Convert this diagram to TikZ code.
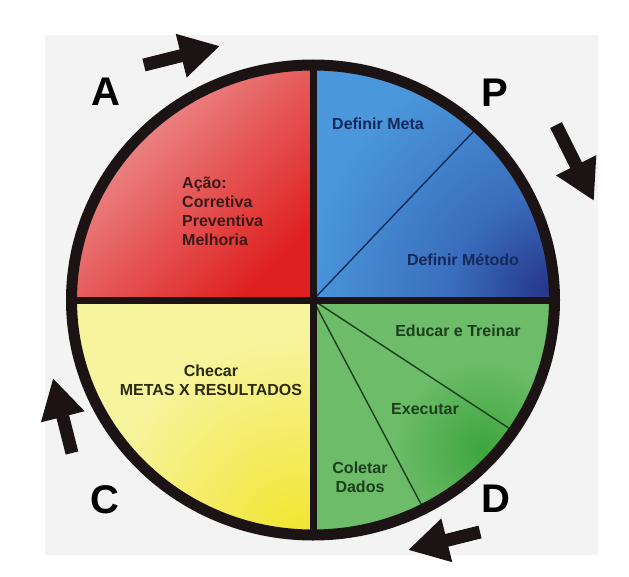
\documentclass[tikz,border=0pt]{standalone}
\usepackage{fontspec}
\setmainfont{Liberation Sans}
\usetikzlibrary{arrows.meta}

\definecolor{ringcol}{HTML}{1C1414}
\definecolor{bggray}{HTML}{F3F3F3}
\definecolor{redlt}{HTML}{EFA3A3}
\definecolor{redmid}{HTML}{E98080}
\definecolor{reddk}{HTML}{DF2020}
\definecolor{bluelt}{HTML}{4A97DB}
\definecolor{bluemid}{HTML}{3A6DBD}
\definecolor{bluedk}{HTML}{26368A}
\definecolor{greenlt}{HTML}{6DBC69}
\definecolor{greendk}{HTML}{3DA53D}
\definecolor{yellowlt}{HTML}{F7F49E}
\definecolor{yellowdk}{HTML}{F2E52E}
\definecolor{txtred}{HTML}{3A1A18}
\definecolor{txtblue}{HTML}{15295C}
\definecolor{txtgreen}{HTML}{1B3F1B}
\definecolor{txtyellow}{HTML}{2B2A12}

% soft spots of colour (the path's circle is at 25bp)
\pgfdeclareradialshading{bluespot}{\pgfpoint{0bp}{0bp}}{color(0bp)=(bluedk); color(10bp)=(bluemid); color(25bp)=(bluelt); color(50bp)=(bluelt)}
\pgfdeclareradialshading{yellowspot}{\pgfpoint{0bp}{0bp}}{color(0bp)=(yellowdk); color(25bp)=(yellowlt); color(50bp)=(yellowlt)}
\pgfdeclareradialshading{greenspot}{\pgfpoint{0bp}{0bp}}{color(0bp)=(greendk); color(25bp)=(greenlt); color(50bp)=(greenlt)}

\tikzset{
  lbl/.style={font=\bfseries\fontsize{16}{19}\selectfont, inner sep=0pt},
  bigletter/.style={font=\bfseries\fontsize{40}{40}\selectfont, inner sep=0pt, text=black},
  cyclearrow/.style={line width=13pt, ringcol, -{Triangle[length=40pt,width=42pt]}},
  sectorline/.style={line width=1.4pt}
}

\begin{document}
\begin{tikzpicture}[x=1pt,y=1pt]
  \useasboundingbox (-313,-276) rectangle (316,300);
  % background
  \fill[white] (-313,-276) rectangle (316,300);
  \fill[bggray] (-268,-255) rectangle (285,265);

  \coordinate (ctr) at (0,0);

  % the four quadrants
  \begin{scope}
    \clip (ctr) ellipse [x radius=241.5, y radius=235];
    \shade[top color=redlt, middle color=redmid, bottom color=reddk, shading angle=45] (-250,0) rectangle (0,250);
    % blue: light, darker towards the lower right
    \fill[bluelt] (0,0) rectangle (250,250);
    \begin{scope}
      \clip (0,0) rectangle (250,250);
      \shade[shading=bluespot] (235,10) circle (240);
    \end{scope}
    % yellow: pale, strong yellow at the bottom
    \fill[yellowlt] (-250,-250) rectangle (0,0);
    \begin{scope}
      \clip (-250,-250) rectangle (0,0);
      \shade[shading=yellowspot] (-15,-235) circle (200);
    \end{scope}
    % green with a darker patch
    \fill[greenlt] (0,-250) rectangle (250,0);
    \shade[shading=greenspot] (170,-150) circle (90);

    % sub-divisions of P and D
    \coordinate (metaend) at (46.4:400);
    \coordinate (educend) at (-33.2:400);
    \coordinate (execend) at (-62.1:400);
    \draw[sectorline, txtblue] (ctr) -- (metaend);
    \draw[sectorline, txtgreen] (ctr) -- (educend);
    \draw[sectorline, txtgreen] (ctr) -- (execend);
  \end{scope}

  % dividers and ring
  \draw[ringcol, line width=7pt] (-241.5,0) -- (241.5,0);
  \draw[ringcol, line width=7pt] (0,-235) -- (0,235);
  \draw[ringcol, line width=11pt] (ctr) ellipse [x radius=241.5, y radius=235];

  % labels
  \node[lbl, text=txtred, align=left, anchor=west] (acao) at (-131,88.5)
    {Ação:\\Corretiva\\Preventiva\\Melhoria};
  \node[lbl, text=txtyellow, align=center] (checar) at (-102,-80)
    {Checar\\METAS X RESULTADOS};
  \node[lbl, text=txtblue] (meta) at (65,176) {Definir Meta};
  \node[lbl, text=txtblue] (metodo) at (150,40) {Definir Método};
  \node[lbl, text=txtgreen] (educar) at (145,-31) {Educar e Treinar};
  \node[lbl, text=txtgreen] (executar) at (112,-109) {Executar};
  \node[lbl, text=txtgreen, align=center] (coletar) at (47,-177.5) {Coletar\\Dados};

  % letters of the cycle
  \node[bigletter] (letA) at (-207,208) {A};
  \node[bigletter] (letP) at (182,207) {P};
  \node[bigletter] (letC) at (-208,-200) {C};
  \node[bigletter] (letD) at (183,-199) {D};

  % arrows round the circle
  \coordinate (apTail) at (-169,235);
  \coordinate (apTip) at (-93,254);
  \coordinate (pdTail) at (243,175);
  \coordinate (pdTip) at (281,99);
  \coordinate (dcTail) at (167,-232);
  \coordinate (dcTip) at (95,-250);
  \coordinate (caTail) at (-241,-153);
  \coordinate (caTip) at (-260,-78);
  \draw[cyclearrow] (apTail) -- (apTip);
  \draw[cyclearrow] (pdTail) -- (pdTip);
  \draw[cyclearrow] (dcTail) -- (dcTip);
  \draw[cyclearrow] (caTail) -- (caTip);
\end{tikzpicture}
\end{document}
